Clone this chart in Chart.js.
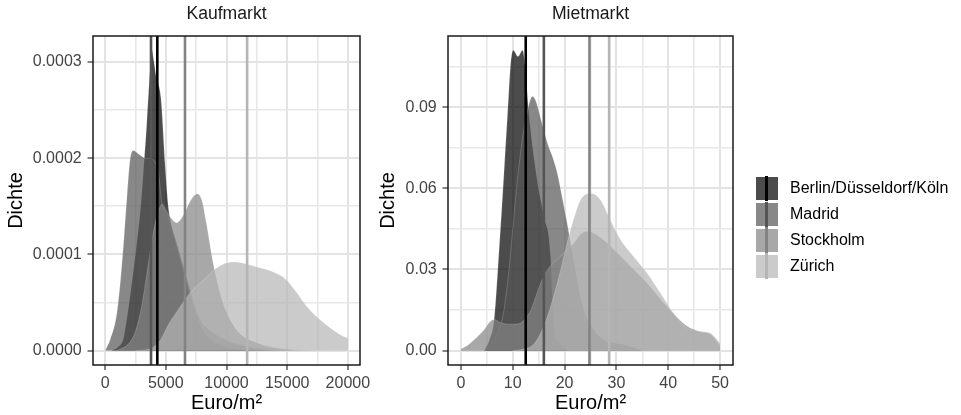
<!DOCTYPE html>
<html>
<head>
<meta charset="utf-8">
<script src="https://cdn.jsdelivr.net/npm/chart.js@4.4.1/dist/chart.umd.min.js"></script>
<style>
  html, body { margin: 0; padding: 0; background: #ffffff; }
  body { width: 961px; height: 415px; overflow: hidden; position: relative;
         font-family: "Liberation Sans", Arial, Helvetica, sans-serif; }
  #kauf { position: absolute; left: 0px; top: 0px; }
  #miet { position: absolute; left: 370px; top: 0px; }
  #legend { position: absolute; left: 0; top: 0; width: 961px; height: 415px; pointer-events: none; }
  .key { position: absolute; }
  .lbl { position: absolute; font-size: 16px; color: #000; white-space: nowrap; }
</style>
</head>
<body>
<canvas id="kauf" width="380" height="415"></canvas>
<canvas id="miet" width="383" height="415"></canvas>
<div id="legend"></div>
<script>
// ---------------- DATA ----------------
const cities = ['Berlin/Düsseldorf/Köln', 'Madrid', 'Stockholm', 'Zürich'];
const panelTitles = ['Kaufmarkt', 'Mietmarkt'];
const xTitle = 'Euro/m²';
const yTitle = 'Dichte';

// Kaufmarkt densities: [Euro/m², density]
const kaufBerlin = [[500,0],[1000,0.03e-4],[1500,0.12e-4],[1650,0.22e-4],[2050,0.56e-4],[2400,0.9e-4],[2740,1.26e-4],[3000,1.6e-4],[3200,1.95e-4],[3400,2.3e-4],[3560,2.64e-4],[3700,2.92e-4],[3840,3.13e-4],[4000,3.02e-4],[4200,2.85e-4],[4600,2.62e-4],[4930,1.95e-4],[5200,1.5e-4],[5500,1.28e-4],[5900,1.08e-4],[6500,0.8e-4],[7000,0.56e-4],[7500,0.37e-4],[8000,0.22e-4],[8500,0.13e-4],[9000,0.08e-4],[9700,0.045e-4],[10500,0.02e-4],[12000,0.005e-4],[14000,0]];
const kaufMadrid = [[0,0],[400,0.11e-4],[1000,0.42e-4],[1500,1.08e-4],[1800,1.6e-4],[2050,1.98e-4],[2330,2.08e-4],[2600,2.06e-4],[2900,2.03e-4],[3300,2.0e-4],[3700,2.0e-4],[4100,1.96e-4],[4400,1.85e-4],[4650,1.55e-4],[5200,1.38e-4],[5900,1.12e-4],[6500,0.85e-4],[7000,0.63e-4],[7800,0.33e-4],[8500,0.22e-4],[9200,0.16e-4],[10500,0.08e-4],[11600,0.045e-4],[13000,0.015e-4],[15000,0.003e-4],[17000,0]];
const kaufStockholm = [[1000,0],[2000,0.08e-4],[2500,0.2e-4],[3000,0.45e-4],[3500,0.85e-4],[4000,1.25e-4],[4400,1.45e-4],[4700,1.52e-4],[5200,1.42e-4],[5900,1.33e-4],[6500,1.42e-4],[7000,1.55e-4],[7600,1.63e-4],[8000,1.55e-4],[8350,1.32e-4],[8900,0.91e-4],[9700,0.5e-4],[10800,0.22e-4],[12500,0.08e-4],[14000,0.03e-4],[16000,0.005e-4],[18000,0]];
const kaufZurich = [[2500,0],[3500,0.01e-4],[4500,0.1e-4],[5300,0.29e-4],[6000,0.42e-4],[7000,0.6e-4],[8400,0.77e-4],[9200,0.86e-4],[10000,0.91e-4],[10800,0.92e-4],[11600,0.9e-4],[12500,0.87e-4],[13800,0.82e-4],[14900,0.74e-4],[15800,0.6e-4],[16600,0.46e-4],[18000,0.29e-4],[19600,0.15e-4],[20000,0.13e-4]];
const kaufMeans = [4300, 3780, 6580, 11700];

// Mietmarkt densities: [Euro/m², density]
const mietBerlin = [[4.5,0],[5.5,0.004],[6.4,0.0115],[7.4,0.0385],[8.3,0.0656],[9.0,0.0878],[9.6,0.1062],[10.1,0.111],[11.0,0.1087],[11.9,0.111],[12.5,0.1026],[13.1,0.0878],[14.7,0.0632],[16.0,0.0496],[17.3,0.0348],[17.6,0.02],[17.9,0.0078],[19,0.003],[20.5,0]];
const mietMadrid = [[4.5,0],[6,0.003],[8,0.012],[9,0.025],[10,0.045],[11,0.065],[12,0.08],[13,0.09],[13.8,0.094],[14.5,0.092],[15.5,0.085],[16.7,0.0767],[17.6,0.072],[18.6,0.0656],[19.5,0.057],[20.5,0.0471],[21.5,0.036],[22.4,0.0262],[23.7,0.0151],[25.6,0.0078],[27.5,0.004],[29.5,0.0028],[32,0.002],[35,0]];
const mietStockholm = [[0,0.0006],[1.3,0.002],[2.6,0.0041],[4.5,0.0078],[5.5,0.0105],[6.4,0.0115],[7.5,0.0105],[9.0,0.0098],[10.3,0.0098],[11.5,0.0102],[12.5,0.012],[13.5,0.0151],[15.4,0.025],[16.7,0.0299],[19.2,0.0348],[21.8,0.0398],[23.2,0.0432],[24.4,0.0441],[25.8,0.0432],[28.2,0.0398],[32.1,0.0324],[35.9,0.025],[39.7,0.0164],[43.6,0.0091],[46.2,0.0071],[48.1,0.0062],[50,0.002]];
const mietZurich = [[10,0],[12,0.0005],[14.1,0.0025],[15.5,0.007],[16.7,0.0127],[18.6,0.025],[20.5,0.0398],[21.8,0.049],[23.1,0.0558],[25.0,0.0582],[26.9,0.0558],[28.8,0.0484],[30.8,0.041],[33.3,0.0348],[35.9,0.0287],[38.5,0.0213],[41.0,0.0139],[43.6,0.0084],[46.2,0.0071],[48.1,0.0065],[50,0.0028]];
const mietMeans = [12.5, 16.0, 24.8, 28.6];

// Axes: ranges, ticks and labels
const kaufXRange = [-1000, 21000];
const kaufYRange = [-1.5e-5, 3.27e-4];
const kaufXTicks = [0, 5000, 10000, 15000, 20000];
const kaufXLabels = ['0', '5000', '10000', '15000', '20000'];
const kaufXMinor = [2500, 7500, 12500, 17500];
const kaufYTicks = [0, 1e-4, 2e-4, 3e-4];
const kaufYLabels = ['0.0000', '0.0001', '0.0002', '0.0003'];
const kaufYMinor = [0.5e-4, 1.5e-4, 2.5e-4];

const mietXRange = [-2.5, 52.5];
const mietYRange = [-0.0053, 0.1163];
const mietXTicks = [0, 10, 20, 30, 40, 50];
const mietXLabels = ['0', '10', '20', '30', '40', '50'];
const mietXMinor = [5, 15, 25, 35, 45];
const mietYTicks = [0, 0.03, 0.06, 0.09];
const mietYLabels = ['0.00', '0.03', '0.06', '0.09'];
const mietYMinor = [0.015, 0.045, 0.075, 0.105];

// ---------------- STYLE ----------------
const FONT = '"Liberation Sans", Arial, Helvetica, sans-serif';
const fillColors = ['rgba(0,0,0,0.7)', 'rgba(85,85,85,0.7)', 'rgba(131,131,131,0.7)', 'rgba(181,181,181,0.7)'];
const lineColors = ['#000000', '#555555', '#838383', '#b5b5b5'];
const outlineColor = 'rgba(255,255,255,0.3)';
const gridMajor = '#e3e3e3';
const gridMinor = '#e8e8e8';

Chart.defaults.font.family = FONT;

const panelBorder = {
  id: 'panelBorder',
  afterDraw(chart) {
    const { ctx, chartArea: a } = chart;
    ctx.save();
    ctx.strokeStyle = '#1a1a1a';
    ctx.lineWidth = 1.5;
    ctx.strokeRect(a.left, a.top, a.right - a.left, a.bottom - a.top);
    ctx.restore();
  }
};

function near(v, arr) { return arr.some(t => Math.abs(t - v) < 1e-9 * Math.max(1, Math.abs(t)) + 1e-12); }

function axisGrid(majors) {
  return {
    display: true,
    drawTicks: true,
    tickLength: 5,
    tickWidth: 1.2,
    color: c => (c.tick && near(c.tick.value, majors)) ? gridMajor : gridMinor,
    lineWidth: c => (c.tick && near(c.tick.value, majors)) ? 2 : 1.6,
    tickColor: c => (c.tick && near(c.tick.value, majors)) ? '#333333' : 'rgba(0,0,0,0)'
  };
}

function labelFor(v, majors, labels) {
  const i = majors.findIndex(t => Math.abs(t - v) < 1e-9 * Math.max(1, Math.abs(t)) + 1e-12);
  return i >= 0 ? labels[i] : '';
}

function buildPanel(id, opts) {
  const datasets = [];
  opts.series.forEach((s, i) => {
    datasets.push({
      type: 'line',
      label: cities[i],
      data: s.map(p => ({ x: p[0], y: p[1] })),
      fill: 'origin',
      backgroundColor: fillColors[i],
      borderColor: outlineColor,
      borderWidth: 0.6,
      pointRadius: 0,
      cubicInterpolationMode: 'monotone',
      order: 10 - i
    });
  });
  opts.means.forEach((m, i) => {
    datasets.push({
      type: 'line',
      label: cities[i] + ' mean',
      data: [{ x: m, y: opts.yRange[0] }, { x: m, y: opts.yRange[1] }],
      borderColor: lineColors[i],
      borderWidth: 2.6,
      pointRadius: 0,
      fill: false,
      order: 4 - i
    });
  });

  const xAll = opts.xTicks.concat(opts.xMinor).sort((a, b) => a - b);
  const yAll = opts.yTicks.concat(opts.yMinor).sort((a, b) => a - b);

  return new Chart(document.getElementById(id), {
    type: 'line',
    data: { datasets },
    plugins: [panelBorder],
    options: {
      responsive: false,
      animation: false,
      devicePixelRatio: 1,
      layout: { padding: { left: 0, right: 20, top: 0, bottom: 0 } },
      plugins: { legend: { display: false }, tooltip: { enabled: false }, title: { display: false } },
      elements: { line: { tension: 0 } },
      scales: {
        x: {
          type: 'linear', position: 'bottom',
          min: opts.xRange[0], max: opts.xRange[1],
          afterBuildTicks: s => { s.ticks = xAll.map(v => ({ value: v })); },
          afterFit: s => { s.height = 50; },
          grid: axisGrid(opts.xTicks),
          border: { display: false },
          ticks: {
            autoSkip: false, maxRotation: 0, minRotation: 0, padding: 4,
            color: '#444444', font: { size: 16 },
            callback: v => labelFor(v, opts.xTicks, opts.xLabels)
          },
          title: { display: true, text: xTitle, color: '#000000', font: { size: 20 }, padding: { top: 0, bottom: 0 } }
        },
        x2: {
          type: 'linear', position: 'top',
          min: opts.xRange[0], max: opts.xRange[1],
          afterFit: s => { s.height = 36; },
          grid: { display: false, drawTicks: false },
          border: { display: false },
          ticks: { display: false },
          title: { display: true, text: opts.title, color: '#1a1a1a', font: { size: 17.6 }, padding: { top: 4, bottom: 0 } }
        },
        y: {
          type: 'linear', position: 'left',
          min: opts.yRange[0], max: opts.yRange[1],
          afterBuildTicks: s => { s.ticks = yAll.map(v => ({ value: v })); },
          afterFit: s => { s.width = opts.yWidth; },
          grid: Object.assign(axisGrid(opts.yTicks), { tickLength: 5.5 }),
          border: { display: false },
          ticks: {
            autoSkip: false, padding: 5.8,
            color: '#444444', font: { size: 16 },
            callback: v => labelFor(v, opts.yTicks, opts.yLabels)
          },
          title: { display: true, text: yTitle, color: '#000000', font: { size: 20 }, padding: { top: opts.yTitlePad, bottom: 0 } }
        }
      }
    }
  });
}

buildPanel('kauf', {
  title: panelTitles[0],
  series: [kaufBerlin, kaufMadrid, kaufStockholm, kaufZurich],
  means: kaufMeans,
  xRange: kaufXRange, yRange: kaufYRange,
  xTicks: kaufXTicks, xLabels: kaufXLabels, xMinor: kaufXMinor,
  yTicks: kaufYTicks, yLabels: kaufYLabels, yMinor: kaufYMinor,
  yWidth: 93, yTitlePad: 4.8
});

buildPanel('miet', {
  title: panelTitles[1],
  series: [mietBerlin, mietMadrid, mietStockholm, mietZurich],
  means: mietMeans,
  xRange: mietXRange, yRange: mietYRange,
  xTicks: mietXTicks, xLabels: mietXLabels, xMinor: mietXMinor,
  yTicks: mietYTicks, yLabels: mietYLabels, yMinor: mietYMinor,
  yWidth: 78, yTitlePad: 6.9
});

// ---------------- LEGEND (HTML) ----------------
const legend = document.getElementById('legend');
const keyLeft = 756, keyTop = 177.3, keyPitch = 25.9, keyW = 21.7, keyH = 22.5;
cities.forEach((name, i) => {
  const top = keyTop + i * keyPitch;
  const sq = document.createElement('div');
  sq.className = 'key';
  sq.style.cssText = `left:${keyLeft}px;top:${top}px;width:${keyW}px;height:${keyH}px;background:${fillColors[i]};`;
  legend.appendChild(sq);
  const ln = document.createElement('div');
  ln.className = 'key';
  ln.style.cssText = `left:${keyLeft + keyW / 2 - 1.5}px;top:${top - 1.7}px;width:3px;height:${keyPitch}px;background:${lineColors[i]};`;
  legend.appendChild(ln);
  const tx = document.createElement('div');
  tx.className = 'lbl';
  tx.style.cssText = `left:790px;top:${top}px;height:${keyH}px;line-height:${keyH}px;`;
  tx.textContent = name;
  legend.appendChild(tx);
});
</script>
</body>
</html>
